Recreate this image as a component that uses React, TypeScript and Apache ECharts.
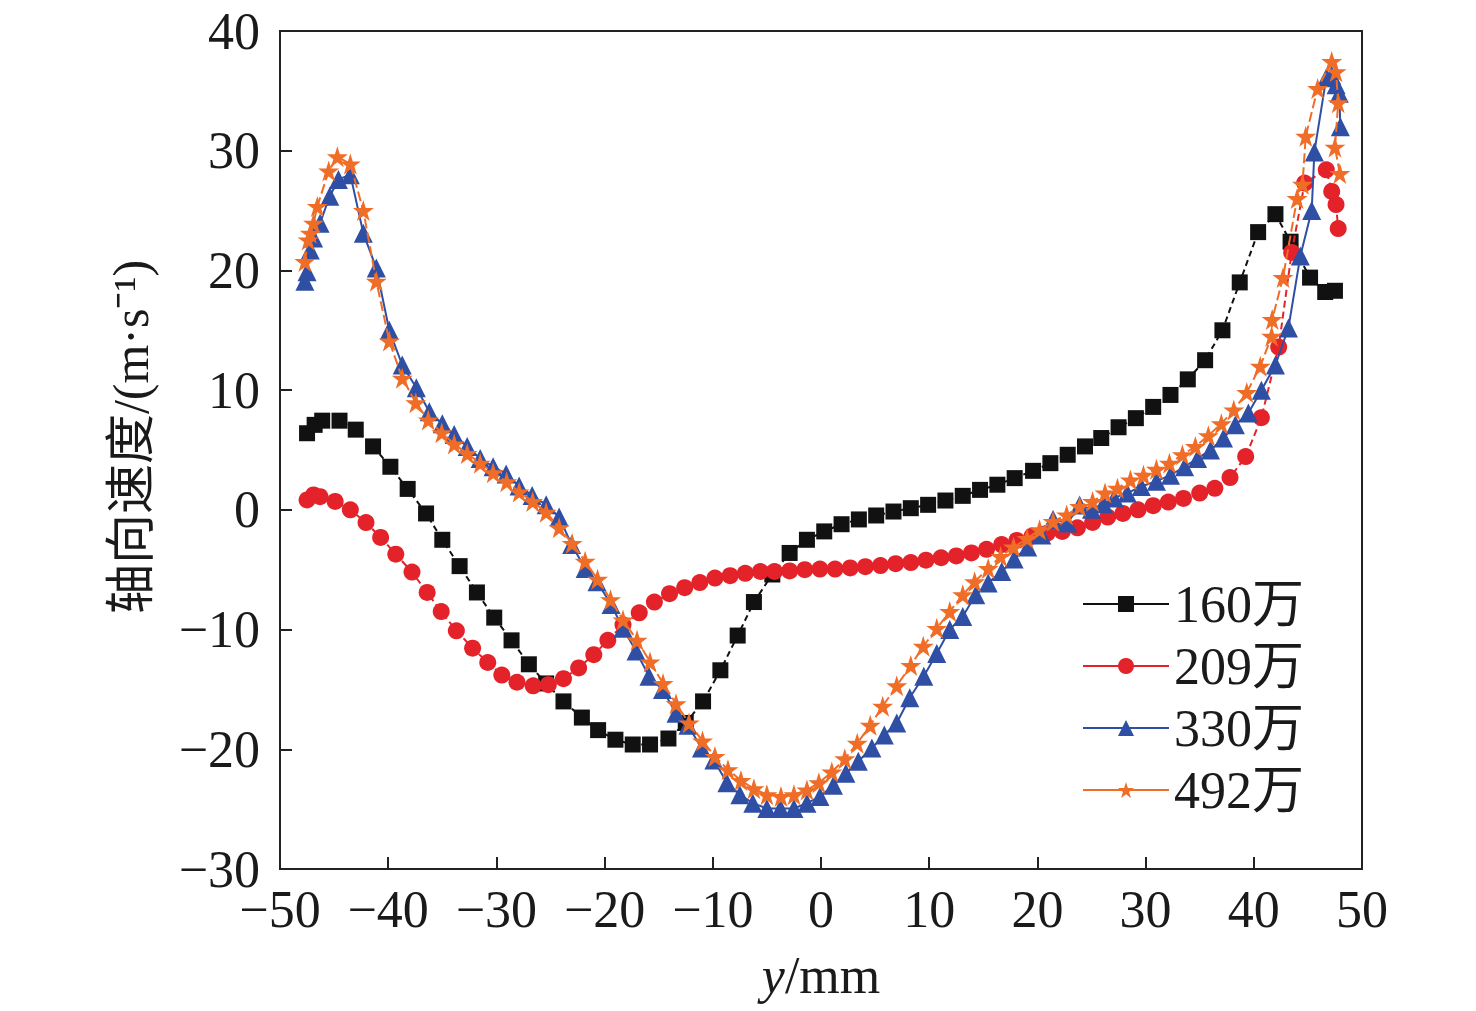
import React, { useEffect, useRef } from "react";
import * as echarts from "echarts";

const seriesNames = ["160万", "209万", "330万", "492万"];

const x160 = [-47.5,-46.8,-46.1,-44.5,-43.0,-41.4,-39.8,-38.2,-36.5,-35.0,-33.4,-31.8,-30.2,-28.6,-27.0,-25.4,-23.8,-22.1,-20.6,-19.0,-17.4,-15.8,-14.1,-12.5,-10.9,-9.3,-7.7,-6.2,-4.5,-2.9,-1.3,0.3,1.9,3.5,5.1,6.7,8.3,9.9,11.5,13.1,14.7,16.3,17.9,19.6,21.2,22.8,24.4,25.9,27.5,29.1,30.7,32.3,33.9,35.5,37.1,38.7,40.4,42.0,43.4,45.2,46.6,47.5];
const y160 = [6.4,7.1,7.45,7.45,6.7,5.3,3.6,1.75,-0.3,-2.5,-4.7,-6.9,-9.0,-10.9,-12.9,-14.5,-16.0,-17.35,-18.4,-19.2,-19.6,-19.6,-19.1,-17.8,-16.0,-13.4,-10.5,-7.7,-5.4,-3.6,-2.5,-1.8,-1.2,-0.8,-0.47,-0.14,0.14,0.42,0.78,1.17,1.67,2.1,2.65,3.26,3.9,4.6,5.3,6.0,6.9,7.66,8.6,9.6,10.9,12.5,15.0,19.0,23.2,24.7,22.4,19.4,18.2,18.3];

const x209 = [-47.5,-46.9,-46.3,-44.9,-43.5,-42.05,-40.7,-39.3,-37.8,-36.4,-35.1,-33.7,-32.2,-30.8,-29.5,-28.1,-26.6,-25.2,-23.8,-22.4,-21.0,-19.7,-18.3,-16.8,-15.4,-14.0,-12.6,-11.2,-9.8,-8.4,-7.0,-5.6,-4.3,-2.9,-1.5,-0.1,1.3,2.7,4.1,5.5,6.9,8.3,9.7,11.1,12.5,13.9,15.3,16.7,18.1,19.5,20.9,22.3,23.7,25.1,26.5,27.9,29.3,30.7,32.1,33.5,35.0,36.4,37.8,39.25,40.7,42.3,43.5,44.7,46.7,47.2,47.6,47.8];
const y209 = [0.83,1.25,1.1,0.7,0.0,-1.06,-2.3,-3.7,-5.2,-6.9,-8.5,-10.1,-11.55,-12.75,-13.8,-14.4,-14.7,-14.6,-14.1,-13.2,-12.1,-10.9,-9.6,-8.6,-7.7,-7.0,-6.5,-6.07,-5.7,-5.5,-5.3,-5.15,-5.15,-5.1,-5.0,-4.95,-4.95,-4.85,-4.75,-4.65,-4.5,-4.4,-4.2,-4.0,-3.85,-3.6,-3.3,-2.9,-2.55,-2.2,-1.95,-1.8,-1.5,-1.05,-0.6,-0.3,0.0,0.35,0.65,0.95,1.4,1.8,2.7,4.45,7.7,13.6,21.5,27.3,28.4,26.6,25.5,23.5];

const x330 = [-47.7,-47.5,-47.2,-46.9,-46.3,-45.4,-44.6,-43.5,-42.3,-41.1,-39.9,-38.7,-37.4,-36.2,-35.0,-33.9,-32.7,-31.5,-30.3,-29.1,-27.9,-26.7,-25.4,-24.2,-23.05,-21.8,-20.7,-19.4,-18.3,-17.1,-15.9,-14.65,-13.4,-12.3,-11.05,-9.9,-8.7,-7.5,-6.3,-5.0,-3.75,-2.5,-1.3,-0.1,1.15,2.3,3.45,4.7,5.85,7.0,8.2,9.5,10.7,11.9,13.1,14.3,15.45,16.7,17.85,19.1,20.4,21.45,22.8,23.9,25.0,26.1,27.1,28.3,29.6,31.0,32.3,33.6,34.8,36.0,37.2,38.3,39.5,40.7,42.0,43.2,44.3,45.35,45.6,46.7,47.2,47.6,47.9,48.0];
const y330 = [19.1,19.9,21.7,22.7,23.95,26.2,27.6,28.0,23.1,20.2,15.0,12.1,10.2,8.2,7.2,6.3,5.3,4.3,3.6,3.0,2.0,1.2,0.42,-0.6,-2.9,-4.9,-6.0,-7.9,-9.9,-11.8,-13.9,-15.0,-17.0,-18.0,-19.9,-20.9,-22.8,-23.8,-24.5,-24.95,-24.95,-24.95,-24.5,-23.95,-23.0,-22.0,-21.0,-19.9,-18.8,-17.8,-15.7,-13.9,-12.0,-10.0,-8.9,-7.1,-6.1,-5.15,-4.1,-3.1,-2.1,-0.8,-1.1,0.4,0.05,0.5,1.0,1.4,1.95,2.4,2.9,3.6,4.3,5.0,6.0,7.1,8.1,10.0,12.1,15.2,21.2,25.0,29.9,36.1,36.3,35.5,34.8,32.0];

const x492 = [-47.7,-47.4,-47.2,-46.9,-46.55,-45.5,-44.7,-43.5,-42.3,-41.1,-39.9,-38.7,-37.45,-36.3,-35.05,-33.9,-32.7,-31.5,-30.3,-29.05,-27.9,-26.65,-25.4,-24.2,-23.0,-21.8,-20.65,-19.45,-18.3,-17.0,-15.8,-14.6,-13.4,-12.2,-10.95,-9.8,-8.6,-7.4,-6.2,-5.0,-3.7,-2.5,-1.3,-0.2,1.0,2.2,3.35,4.55,5.7,7.0,8.3,9.45,10.7,11.9,13.1,14.2,15.45,16.6,17.8,19.05,20.2,21.45,22.7,23.9,25.1,26.25,27.4,28.6,29.8,31.0,32.2,33.4,34.6,35.8,37.0,38.15,39.35,40.6,41.65,41.7,42.7,44.0,44.5,44.8,45.9,47.2,47.6,47.8,47.5,47.95];
const y492 = [20.75,22.55,23.1,23.95,25.35,28.3,29.5,28.9,25.0,19.1,14.1,11.0,8.95,7.5,6.45,5.5,4.7,3.9,3.1,2.35,1.5,0.7,-0.2,-1.5,-2.8,-4.3,-5.8,-7.5,-9.2,-10.9,-12.7,-14.5,-16.2,-17.8,-19.3,-20.6,-21.7,-22.6,-23.3,-23.8,-23.95,-23.8,-23.4,-22.8,-21.9,-20.8,-19.5,-18.0,-16.4,-14.7,-13.0,-11.4,-9.9,-8.5,-7.1,-6.0,-4.9,-3.9,-3.1,-2.4,-1.67,-0.98,-0.42,0.28,0.7,1.4,1.8,2.5,2.9,3.4,3.9,4.6,5.3,6.2,7.2,8.35,9.8,12.0,14.5,15.9,19.4,26.0,27.2,31.2,35.2,37.45,36.6,34.0,30.3,28.1];

const xTicks = [-50, -40, -30, -20, -10, 0, 10, 20, 30, 40, 50];
const yTicks = [-30, -20, -10, 0, 10, 20, 30, 40];

const STAR = "path://M50,0 L61.2,34.5 L97.6,34.5 L68.2,55.9 L79.4,90.5 L50,69.1 L20.6,90.5 L31.8,55.9 L2.4,34.5 L38.8,34.5 Z";
const FONT = "'Liberation Serif', 'Times New Roman', 'Noto Sans CJK SC', serif";

const pairs = (xs: number[], ys: number[]) => xs.map((x, i) => [x, ys[i]]);
const fmt = (v: number) => (v < 0 ? "\u2212" + Math.abs(v) : String(v));

export default function App() {
  const ref = useRef<HTMLDivElement>(null);
  useEffect(() => {
    if (!ref.current) return;
    const chart = echarts.init(ref.current, null, { renderer: "svg" });
    const colors = ["#111111", "#e4222a", "#2f4fa5", "#f06d28"];
    const data = [pairs(x160, y160), pairs(x209, y209), pairs(x330, y330), pairs(x492, y492)];
    const symbols = ["rect", "circle", "triangle", STAR];
    const sizes = [16, 17, 19, 21];
    const dashes: any[] = [[6, 4], [7, 4], "solid", [10, 4]];
    chart.setOption({
      animation: false,
      backgroundColor: "#ffffff",
      grid: { left: 280, right: 114, top: 31, bottom: 142, show: true, borderColor: "#222", borderWidth: 2, backgroundColor: "transparent" },
      legend: {
        left: 1082,
        top: 578,
        padding: 0,
        orient: "vertical",
        itemWidth: 86,
        itemHeight: 20,
        itemGap: 10,
        data: seriesNames,
        textStyle: { fontFamily: FONT, fontSize: 52, color: "#1a1a1a", padding: [0, 0, 0, 0] },
        lineStyle: { type: "solid", width: 2 },
      },
      xAxis: {
        type: "value",
        min: -50,
        max: 50,
        interval: 10,
        name: "{i|y}/mm",
        nameLocation: "middle",
        nameGap: 80,
        nameTextStyle: {
          fontFamily: FONT,
          fontSize: 52,
          color: "#1a1a1a",
          rich: { i: { fontFamily: FONT, fontSize: 52, fontStyle: "italic", color: "#1a1a1a" } },
        },
        axisLine: { show: true, onZero: false, lineStyle: { color: "#222", width: 2 } },
        axisTick: { show: true, inside: true, length: 12, lineStyle: { color: "#222", width: 2 } },
        axisLabel: { fontFamily: FONT, fontSize: 52, color: "#1a1a1a", margin: 14, formatter: (v: number) => (xTicks.includes(v) ? fmt(v) : "") },
        splitLine: { show: false },
      },
      yAxis: {
        type: "value",
        min: -30,
        max: 40,
        interval: 10,
        name: "轴向速度/(m·s\u207B\u00B9)",
        nameLocation: "middle",
        nameGap: 124,
        nameRotate: 90,
        nameTextStyle: { fontFamily: FONT, fontSize: 50, color: "#1a1a1a", padding: [0, 0, 0, 26] },
        axisLine: { show: true, onZero: false, lineStyle: { color: "#222", width: 2 } },
        axisTick: { show: true, inside: true, length: 12, lineStyle: { color: "#222", width: 2 } },
        axisLabel: { fontFamily: FONT, fontSize: 52, color: "#1a1a1a", margin: 20, formatter: (v: number) => (yTicks.includes(v) ? fmt(v) : "") },
        splitLine: { show: false },
      },
      series: seriesNames.map((name, i) => ({
        name,
        type: "line",
        data: data[i],
        symbol: symbols[i],
        symbolSize: sizes[i],
        showAllSymbol: true,
        itemStyle: { color: colors[i] },
        lineStyle: { color: colors[i], width: 2, type: dashes[i] },
        z: 2 + i,
      })),
    });
    return () => chart.dispose();
  }, []);
  return <div ref={ref} style={{ position: "fixed", left: 0, top: 0, width: 1476, height: 1011 }} />;
}
